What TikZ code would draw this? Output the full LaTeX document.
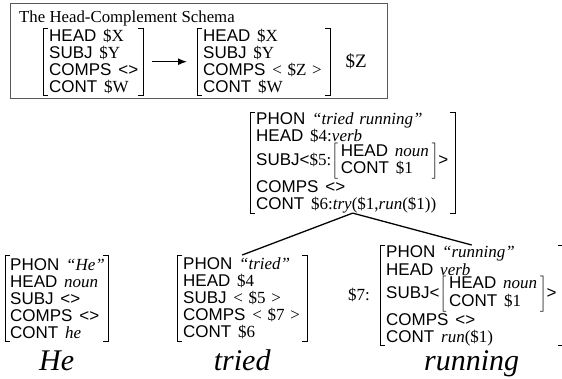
\documentclass[tikz,border=0pt]{standalone}
\usepackage{fontspec}
\setmainfont{Liberation Serif}
\setsansfont{Liberation Sans}
\usetikzlibrary{arrows.meta,positioning}
\newcommand{\ft}[2]{\mbox{\textsf{#1}\hspace{.4em}#2}}
\newcommand{\subavm}[2]{$\left[\,\begin{tabular}{@{}l@{}}#1\\#2\end{tabular}\,\right]$}
\newcommand{\brackets}[1]{%
  \draw[brk] ([xshift=5pt]#1.north west) -- (#1.north west) -- (#1.south west) -- ([xshift=5pt]#1.south west);
  \draw[brk] ([xshift=-5pt]#1.north east) -- (#1.north east) -- (#1.south east) -- ([xshift=-5pt]#1.south east);}

\begin{document}
\begin{tikzpicture}[x=1pt, y=-1pt,
  avm/.style={anchor=north west, align=left, inner xsep=6pt, inner ysep=0pt,
              font=\fontsize{17}{17}\selectfont},
  brk/.style={line width=0.9pt},
  arr/.style={-{Latex[length=9pt,width=7pt]}, line width=1.3pt},
  branch/.style={line width=1.3pt},
  word/.style={anchor=base, font=\fontsize{30}{30}\selectfont\itshape},
]
\useasboundingbox (0,0) rectangle (562,378);

% the schema
\node[draw=black!65, line width=1pt, anchor=north west, minimum width=377pt,
      minimum height=95pt] (frame) at (10,3) {};
\node[anchor=base west, inner sep=0pt, font=\fontsize{16.8}{18}\selectfont] (title) at (19,22)
  {The Head-Complement Schema};
\node[avm, text width=88pt, minimum height=67pt] (lhs) at (43,28)
  {\ft{HEAD}{\$X}\\ \ft{SUBJ}{\$Y}\\ \ft{COMPS}{\textsf{<>}}\\ \ft{CONT}{\$W}};
\node[avm, text width=121pt, minimum height=67pt] (rhs) at (197,28)
  {\ft{HEAD}{\$X}\\ \ft{SUBJ}{\$Y}\\ \ft{COMPS}{< \$Z >}\\ \ft{CONT}{\$W}};
\node[right=15pt of rhs, inner sep=0pt, font=\fontsize{19}{19}\selectfont] (zvar) {\$Z};
\brackets{lhs}
\brackets{rhs}
\draw[arr, shorten <=9pt, shorten >=10pt] (lhs) -- (rhs);

% mother
\node[avm, text width=193pt, minimum height=98pt] (mother) at (250,112)
  {\ft{PHON}{\textit{``tried running''}}\\
   \ft{HEAD}{\$4:\textit{verb}}\\
   \mbox{\textsf{SUBJ<}\$5:\subavm{\ft{HEAD}{\textit{noun}}}{\ft{CONT}{\$1}}\textsf{>}}\\
   \ft{COMPS}{\textsf{<>}}\\
   \ft{CONT}{\$6:\textit{try}(\$1,\textit{run}(\$1))}};
\brackets{mother}

% leaves
\node[avm, inner xsep=5pt, text width=93pt, minimum height=86pt] (he) at (5,255)
  {\ft{PHON}{\textit{``He''}}\\ \ft{HEAD}{\textit{noun}}\\ \ft{SUBJ}{\textsf{<>}}\\
   \ft{COMPS}{\textsf{<>}}\\ \ft{CONT}{\textit{he}}};
\node[avm, text width=118pt, minimum height=86pt] (tried) at (177,255)
  {\ft{PHON}{\textit{``tried''}}\\ \ft{HEAD}{\$4}\\ \ft{SUBJ}{< \$5 >}\\
   \ft{COMPS}{< \$7 >}\\ \ft{CONT}{\$6}};
\node[avm, text width=171pt, minimum height=99pt] (running) at (380,245)
  {\ft{PHON}{\textit{``running''}}\\[1pt]
   \ft{HEAD}{\textit{verb}}\\
   \mbox{\textsf{SUBJ<}\subavm{\ft{HEAD}{\textit{noun}}}{\ft{CONT}{\$1}}\textsf{>}}\\
   \ft{COMPS}{\textsf{<>}}\\
   \ft{CONT}{\textit{run}(\$1)}};
\node[left=10pt of running, inner sep=0pt, font=\fontsize{17}{17}\selectfont] (tag7) {\$7:};
\brackets{he}
\brackets{tried}
\brackets{running}

\draw[branch] (mother.south) -- (tried.north);
\draw[branch] (mother.south) -- (running.north);

% words
\coordinate (wordline) at (0,370);
\node[word] (wHe) at (he.south |- wordline) {He};
\node[word] (wTried) at (tried.south |- wordline) {tried};
\node[word] (wRunning) at (running.south |- wordline) {running};
\end{tikzpicture}
\end{document}
